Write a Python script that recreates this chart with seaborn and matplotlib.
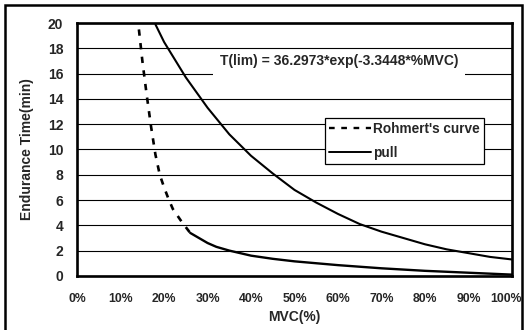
import matplotlib
matplotlib.use("Agg")
import matplotlib.pyplot as plt
import matplotlib.transforms as mtransforms
from matplotlib.lines import Line2D
from matplotlib.patches import Rectangle
import seaborn as sns
import pandas as pd

# Data
mvc_rohmert_dash = [0.142, 0.15, 0.16, 0.17, 0.18, 0.19, 0.20, 0.21, 0.22, 0.24, 0.26]
t_rohmert_dash = [19.5, 17.0, 14.3, 11.8, 9.6, 8.0, 7.0, 6.1, 5.3, 4.3, 3.4]
mvc_rohmert_solid = [0.26, 0.28, 0.30, 0.32, 0.35, 0.40, 0.45, 0.50, 0.55, 0.60, 0.70, 0.80, 0.90, 1.00]
t_rohmert_solid = [3.4, 3.0, 2.6, 2.3, 2.0, 1.6, 1.35, 1.15, 1.0, 0.85, 0.6, 0.4, 0.25, 0.1]

mvc_pull = [0.18, 0.20, 0.25, 0.30, 0.35, 0.40, 0.45, 0.50, 0.55, 0.60, 0.65, 0.70, 0.75, 0.80, 0.85, 0.90, 0.95, 1.00]
t_pull = [19.9, 18.5, 15.7, 13.3, 11.2, 9.5, 8.1, 6.8, 5.8, 4.9, 4.1, 3.5, 3.0, 2.5, 2.1, 1.8, 1.5, 1.3]

x_ticks = [0.0, 0.1, 0.2, 0.3, 0.4, 0.5, 0.6, 0.7, 0.8, 0.9, 1.0]
x_tick_labels = ["0%", "10%", "20%", "30%", "40%", "50%", "60%", "70%", "80%", "90%", "100%"]
y_ticks = [0, 2, 4, 6, 8, 10, 12, 14, 16, 18, 20]

series_names = ["Rohmert's curve", "pull"]
equation = "T(lim) = 36.2973*exp(-3.3448*%MVC)"

sns.set_theme(style="white")
plt.rcParams['font.family'] = ['Liberation Sans', 'DejaVu Sans']
plt.rcParams['font.weight'] = 'bold'

fig = plt.figure(figsize=(5.25, 3.3), dpi=100)
fig.patch.set_facecolor("white")
ax = fig.add_axes([0.147, 0.164, 0.828, 0.766])

df_rd = pd.DataFrame({"mvc": mvc_rohmert_dash, "t": t_rohmert_dash})
df_rs = pd.DataFrame({"mvc": mvc_rohmert_solid, "t": t_rohmert_solid})
df_p = pd.DataFrame({"mvc": mvc_pull, "t": t_pull})

sns.lineplot(data=df_rd, x="mvc", y="t", ax=ax, color="black", lw=1.9, sort=False)
ax.lines[-1].set_dashes((2.4, 2.8))
sns.lineplot(data=df_rs, x="mvc", y="t", ax=ax, color="black", lw=1.7, sort=False)
sns.lineplot(data=df_p, x="mvc", y="t", ax=ax, color="black", lw=1.5, sort=False)

ax.set_xlim(0, 1.0)
ax.set_ylim(0, 20)
ax.set_xticks(x_ticks)
ax.set_xticklabels(x_tick_labels, fontsize=8.8, fontweight="bold")
ax.set_yticks(y_ticks)
ax.set_yticklabels([str(v) for v in y_ticks], fontsize=10, fontweight="bold")
ax.tick_params(axis="x", direction="in", length=3, width=1, color="black", pad=12)
ax.tick_params(axis="y", length=0, pad=10)
ax.yaxis.grid(True, color="black", lw=0.8)
ax.xaxis.grid(False)
ax.set_axisbelow(True)
for s in ax.spines.values():
    s.set_visible(True)
    s.set_color("black")
    s.set_linewidth(1.9)

# keep the last tick label inside the picture
last = ax.get_xticklabels()[-1]
last.set_transform(last.get_transform() + mtransforms.ScaledTranslation(-6 / 100, 0, fig.dpi_scale_trans))

ax.set_xlabel("MVC(%)", fontsize=10, fontweight="bold", labelpad=4)
ax.set_ylabel("Endurance Time(min)", fontsize=10, fontweight="bold", labelpad=10)

# white box behind the equation (covers the 16 grid line under it)
ax.add_patch(Rectangle((0.313, 15.85), 0.58, 1.85, facecolor="white", edgecolor="none", zorder=1))
ax.text(0.603, 17.0, equation, fontsize=10, fontweight="bold", ha="center", va="center", zorder=5)

handles = [Line2D([], [], color="black", lw=1.7, dashes=(2.4, 2.8)),
           Line2D([], [], color="black", lw=1.4)]
leg = ax.legend(handles, series_names, loc="upper left", bbox_to_anchor=(0.57, 0.625),
                borderaxespad=0, frameon=True, fancybox=False, framealpha=1,
                edgecolor="black", handlelength=3.1, handletextpad=0.15,
                borderpad=0.3, labelspacing=0.75, prop=dict(size=9.8, weight="bold"))
leg.get_frame().set_linewidth(0.9)

fig.patches.append(Rectangle((0.01, -0.05), 0.985, 1.035, transform=fig.transFigure,
                             fill=False, edgecolor="black", lw=1.8))

fig.savefig("out.png", dpi=100)
